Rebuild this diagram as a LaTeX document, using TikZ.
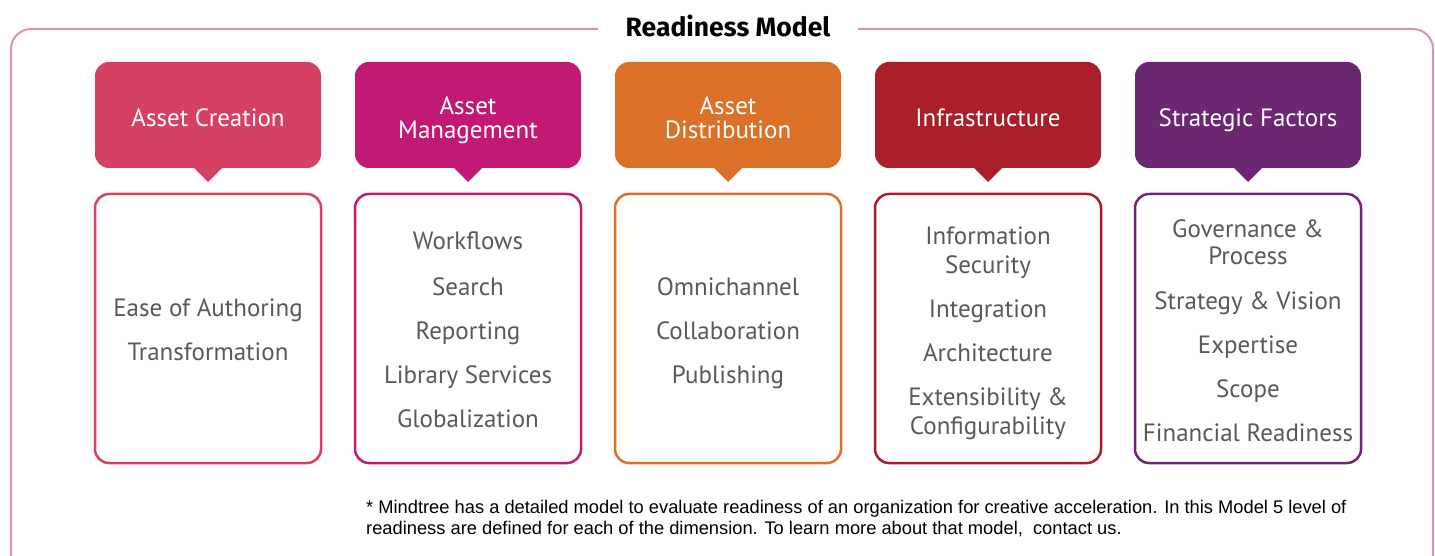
\documentclass[tikz,border=0pt]{standalone}
\usepackage{fontspec}
\setmainfont{PT Sans}
\newfontfamily\titlefont{Fira Sans}
\newfontfamily\notefont{Liberation Sans}
\begin{document}
\begin{tikzpicture}[x=1pt,y=-1pt,
  frame/.style={draw=framepink,line width=2pt,rounded corners=20pt},
  head/.style={fill=#1,rounded corners=14pt},
  body/.style={draw=#1,line width=2.5pt,rounded corners=14pt,fill=white},
  htext/.style={text=white,font=\fontsize{25}{27}\selectfont,inner sep=0pt,anchor=base},
  item/.style={text=itemgrey,font=\fontsize{25}{27}\selectfont,inner sep=0pt,anchor=base}
]
\definecolor{framepink}{HTML}{E391AE}
\definecolor{cA}{HTML}{D64062}
\definecolor{cB}{HTML}{C21A74}
\definecolor{cC}{HTML}{DB7028}
\definecolor{cD}{HTML}{AA1E2A}
\definecolor{cE}{HTML}{6C2772}
\definecolor{itemgrey}{HTML}{595959}
\useasboundingbox (0,0) rectangle (1435,556);
\clip (0,0) rectangle (1435,556);
\fill[white] (0,0) rectangle (1435,556);
\draw[frame] (11,29) rectangle (1433,580);
\fill[white] (598,20) rectangle (858,40);
\node[anchor=base,inner sep=0pt,font=\titlefont\bfseries\fontsize{26.5}{28}\selectfont] (title) at (728,37) {Readiness Model};

\foreach \i/\c in {0/cA,1/cB,2/cC,3/cD,4/cE}{
  \pgfmathsetmacro{\xl}{95+260*\i}
  \pgfmathsetmacro{\xr}{321+260*\i}
  \pgfmathsetmacro{\xc}{208+260*\i}
  \fill[head=\c] (\xl,62) rectangle (\xr,168);
  \fill[\c] (\xc-15,167) -- (\xc+15,167) -- (\xc,182) -- cycle;
  \draw[body=\c] (\xl,194) rectangle (\xr,463);
}

\node[htext] (h1) at (208,127) {Asset Creation};
\node[htext] (h2a) at (468,115) {Asset};
\node[htext] (h2b) at (468,139) {Management};
\node[htext] (h3a) at (728,115) {Asset};
\node[htext] (h3b) at (728,139) {Distribution};
\node[htext] (h4) at (988,127) {Infrastructure};
\node[htext] (h5) at (1248,127) {Strategic Factors};

\node[item] (a1) at (208,316) {Ease of Authoring};
\node[item] (a2) at (208,360) {Transformation};

\node[item] (b1) at (468,250) {Workflows};
\node[item] (b2) at (468,295) {Search};
\node[item] (b3) at (468,339) {Reporting};
\node[item] (b4) at (468,383) {Library Services};
\node[item] (b5) at (468,427) {Globalization};

\node[item] (c1) at (728,295) {Omnichannel};
\node[item] (c2) at (728,339) {Collaboration};
\node[item] (c3) at (728,383) {Publishing};

\node[item] (d1a) at (988,244) {Information};
\node[item] (d1b) at (988,273) {Security};
\node[item] (d2) at (988,317) {Integration};
\node[item] (d3) at (988,361) {Architecture};
\node[item] (d4a) at (988,405) {Extensibility \&};
\node[item] (d4b) at (988,434) {Configurability};

\node[item] (e1a) at (1248,237) {Governance \&};
\node[item] (e1b) at (1248,265) {Process};
\node[item] (e2) at (1248,309) {Strategy \& Vision};
\node[item] (e3) at (1248,353) {Expertise};
\node[item] (e4) at (1248,397) {Scope};
\node[item] (e5) at (1248,441) {Financial Readiness};

\node[anchor=base west,inner sep=0pt,align=left,font=\notefont\fontsize{18.3}{21}\selectfont] (note) at (366,534)
{* Mindtree has a detailed model to evaluate readiness of an organization for creative acceleration. In this Model 5 level of\\
readiness are defined for each of the dimension. To learn more about that model,\ \ contact us.};
\end{tikzpicture}
\end{document}
